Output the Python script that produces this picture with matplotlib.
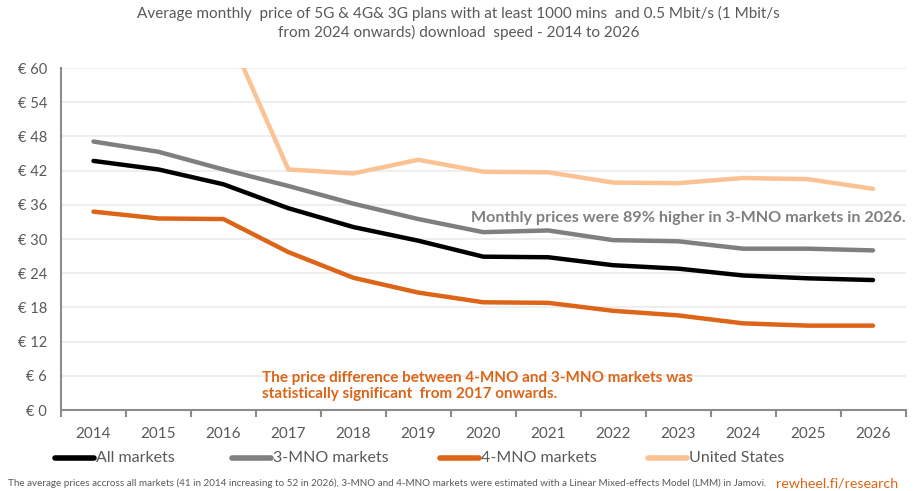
import numpy as np
import matplotlib.pyplot as plt
from matplotlib.lines import Line2D

years = [str(y) for y in range(2014, 2027)]
all_markets = [43.7, 42.2, 39.6, 35.4, 32.1, 29.7, 26.9, 26.8, 25.4, 24.8, 23.6, 23.1, 22.8]
mno3 = [47.1, 45.3, 42.2, 39.3, 36.2, 33.5, 31.2, 31.5, 29.8, 29.6, 28.3, 28.3, 28.0]
mno4 = [34.8, 33.6, 33.5, 27.7, 23.2, 20.6, 18.9, 18.8, 17.4, 16.6, 15.2, 14.8, 14.8]
us = [np.nan, np.nan, 68.0, 42.2, 41.5, 43.9, 41.8, 41.7, 39.9, 39.8, 40.7, 40.5, 38.8]

series = [("All markets", all_markets, "#000000"),
          ("3-MNO markets", mno3, "#7F7F7F"),
          ("4-MNO markets", mno4, "#DC6518"),
          ("United States", us, "#FBC293")]

font = ["Lato", "DejaVu Sans"]
grey_txt = "#595959"
W, H = 917, 491

fig = plt.figure(figsize=(W / 100, H / 100), dpi=100)
ax = fig.add_axes([61 / W, 1 - 410 / H, 844.5 / W, 342 / H])

x = np.arange(len(years))
# draw the US first so it sits behind
for name, vals, col in series[::-1]:
    ax.plot(x, vals, color=col, lw=3.2, solid_joinstyle="round",
            solid_capstyle="round", zorder=3)

ax.set_xlim(-0.5, len(years) - 0.5)
ax.set_ylim(0, 60)
ax.set_yticks(np.arange(0, 61, 6))
ax.set_yticklabels(["€ %d" % v for v in range(0, 61, 6)], family=font,
                   fontsize=10.5, color=grey_txt)
ax.set_xticks(x)
ax.set_xticklabels(years, family=font, fontsize=11, color=grey_txt)
ax.set_xticks(np.arange(-0.5, len(years), 1), minor=True)
ax.tick_params(axis="x", which="major", length=0, pad=12)
ax.tick_params(axis="x", which="minor", length=5, width=1.5, color="#8C8C8C")
ax.tick_params(axis="y", length=0, pad=10)

ax.grid(axis="y", color="#EBEBEB", lw=1.2, zorder=0)
for s in ["top", "right"]:
    ax.spines[s].set_visible(False)
for s in ["left", "bottom"]:
    ax.spines[s].set_color("#8C8C8C")
    ax.spines[s].set_linewidth(1.5)

fig.text(0.5, 1 - 6 / H, "Average monthly  price of 5G & 4G& 3G plans with at least 1000 mins  and 0.5 Mbit/s (1 Mbit/s\nfrom 2024 onwards) download  speed - 2014 to 2026",
         ha="center", va="top", family=font, fontsize=11, color=grey_txt,
         linespacing=1.35)

ax.text(1.0, 0.56, "Monthly prices were 89% higher in 3-MNO markets in 2026.",
        transform=ax.transAxes, ha="right", va="center", family=font,
        fontsize=11.6, fontweight="bold", color="#7F7F7F")
ax.text((262 - 61) / 844.5, 0.07, "The price difference between 4-MNO and 3-MNO markets was\nstatistically significant  from 2017 onwards.",
        transform=ax.transAxes, ha="left", va="center", family=font,
        fontsize=11, fontweight="bold", color="#DC6518", linespacing=1.25)

# legend drawn by hand to match the spacing
leg_x = [55, 232, 440, 648]
leg_y = 1 - 458 / H
for (name, _, col), lx in zip(series, leg_x):
    fig.add_artist(Line2D([lx / W, (lx + 39) / W], [leg_y, leg_y], color=col,
                          lw=4, solid_capstyle="round"))
    fig.text((lx + 41) / W, leg_y, name, ha="left", va="center", family=font,
             fontsize=11.5, color=grey_txt)

fig.text(8 / W, 1 - 483 / H, "The average prices accross all markets (41 in 2014 increasing to 52 in 2026), 3-MNO and 4-MNO markets were estimated with a Linear Mixed-effects Model (LMM) in Jamovi.",
         ha="left", va="center", family=font, fontsize=7.1, color=grey_txt)
fig.text(898 / W, 1 - 483 / H, "rewheel.fi/research", ha="right", va="center",
         family=font, fontsize=10.3, color="#DC6518")

fig.savefig("out.png", dpi=100)
